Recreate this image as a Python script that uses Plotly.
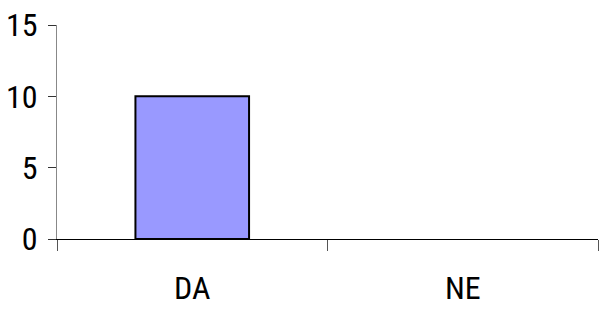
import plotly.graph_objects as go

categories = ["DA", "NE"]
values = [10, 0]
y_ticks = [0, 5, 10, 15]

font_family = "Roboto Condensed, Liberation Sans Narrow, Arial Narrow, Liberation Sans, Arial, sans-serif"

fig = go.Figure()
fig.add_trace(go.Bar(
    x=categories,
    y=values,
    width=0.42,
    marker=dict(
        color="#9999FF",
        line=dict(color="#000000", width=[2 if v > 0 else 0 for v in values]),
    ),
))

fig.update_layout(
    width=599,
    height=309,
    margin=dict(l=57, r=1, t=25, b=70, autoexpand=False),
    paper_bgcolor="white",
    plot_bgcolor="white",
    showlegend=False,
    font=dict(family=font_family, size=32, color="#000000"),
)

fig.update_xaxes(
    type="category",
    automargin=False,
    showline=True,
    linecolor="#000000",
    linewidth=1,
    ticks="outside",
    tickson="boundaries",
    ticklen=11,
    tickcolor="#555555",
    tickwidth=1,
    showgrid=False,
    zeroline=False,
    ticklabelstandoff=21,
    tickfont=dict(family=font_family, size=32),
)

fig.update_yaxes(
    range=[0, 15],
    tickvals=y_ticks,
    automargin=False,
    showline=True,
    linecolor="#888888",
    linewidth=1,
    ticks="outside",
    ticklen=8,
    tickcolor="#333333",
    tickwidth=1,
    showgrid=False,
    zeroline=False,
    ticklabelstandoff=4,
    tickfont=dict(family=font_family, size=32),
)

fig.write_html(
    "out.html",
    config={"displayModeBar": False},
    post_script="document.body.style.margin='0';",
)
